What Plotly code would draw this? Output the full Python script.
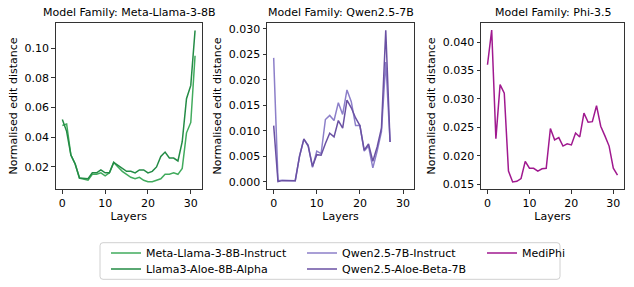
import plotly.graph_objects as go

W, H = 634, 287

layers_llama = list(range(32))
llama_instruct = [0.048, 0.049, 0.028, 0.022, 0.0125, 0.012, 0.011, 0.015, 0.015, 0.016,
                  0.014, 0.016, 0.023, 0.020, 0.017, 0.015, 0.013, 0.012, 0.013, 0.011,
                  0.010, 0.010, 0.011, 0.012, 0.015, 0.015, 0.016, 0.015, 0.019, 0.043,
                  0.050, 0.095]
llama_aloe = [0.052, 0.044, 0.028, 0.022, 0.0125, 0.0125, 0.012, 0.016, 0.016, 0.018,
              0.016, 0.016, 0.023, 0.021, 0.019, 0.017, 0.017, 0.016, 0.018, 0.018,
              0.016, 0.017, 0.020, 0.027, 0.030, 0.026, 0.026, 0.024, 0.037, 0.066,
              0.075, 0.112]

layers_qwen = list(range(28))
qwen_instruct = [0.0243, 0.0002, 0.0003, 0.0003, 0.0003, 0.0002, 0.0050, 0.0083, 0.0072, 0.0028,
                 0.0060, 0.0055, 0.0122, 0.0130, 0.0120, 0.0155, 0.0132, 0.0180, 0.0157, 0.0110,
                 0.0110, 0.0060, 0.0070, 0.0027, 0.0060, 0.0098, 0.0235, 0.0078]
qwen_aloe = [0.0110, 0.0000, 0.0002, 0.0002, 0.0002, 0.0002, 0.0050, 0.0084, 0.0070, 0.0030,
             0.0053, 0.0052, 0.0075, 0.0095, 0.0088, 0.0120, 0.0105, 0.0160, 0.0145, 0.0125,
             0.0110, 0.0062, 0.0074, 0.0040, 0.0068, 0.0105, 0.0297, 0.0078]

layers_phi = list(range(32))
mediphi = [0.0360, 0.0421, 0.0230, 0.0325, 0.0310, 0.0173, 0.0154, 0.0155, 0.0160, 0.0190,
           0.0178, 0.0178, 0.0173, 0.0177, 0.0178, 0.0248, 0.0228, 0.0232, 0.0217, 0.0221,
           0.0219, 0.0240, 0.0233, 0.0275, 0.0259, 0.0260, 0.0288, 0.0252, 0.0235, 0.0217,
           0.0178, 0.0166]

titles = ["Model Family: Meta-Llama-3-8B", "Model Family: Qwen2.5-7B", "Model Family: Phi-3.5"]

FONT = "DejaVu Sans"
FS = 11
C_LI, C_LA = "#41ab5d", "#238b45"
C_QI, C_QA = "#8c7fc9", "#6a51a3"
C_P = "#a0198f"

fig = go.Figure()
def add(x, y, name, color, ax, leg):
    fig.add_trace(go.Scatter(x=x, y=y, name=name, mode="lines", showlegend=True,
                             line=dict(color=color, width=1.5),
                             xaxis="x" + ax, yaxis="y" + ax, legend=leg))

add(layers_llama, llama_instruct, "Meta-Llama-3-8B-Instruct", C_LI, "", "legend")
add(layers_llama, llama_aloe, "Llama3-Aloe-8B-Alpha", C_LA, "", "legend2")
add(layers_qwen, qwen_instruct, "Qwen2.5-7B-Instruct", C_QI, "2", "legend3")
add(layers_qwen, qwen_aloe, "Qwen2.5-Aloe-Beta-7B", C_QA, "2", "legend4")
add(layers_phi, mediphi, "MediPhi", C_P, "3", "legend5")

xdoms = [(55.7 / W, 201.7 / W), (267 / W, 414 / W), (481 / W, 624 / W)]
ydom = (1 - 189.3 / H, 1 - 22.7 / H)
yranges = [(0.0049, 0.1173), (-0.0015, 0.0312), (0.0141, 0.0434)]
ytick = [dict(tickvals=[0.02, 0.04, 0.06, 0.08, 0.10], ticktext=["0.02", "0.04", "0.06", "0.08", "0.10"]),
         dict(tickvals=[0, 0.005, 0.01, 0.015, 0.02, 0.025, 0.03],
              ticktext=["0.000", "0.005", "0.010", "0.015", "0.020", "0.025", "0.030"]),
         dict(tickvals=[0.015, 0.02, 0.025, 0.03, 0.035, 0.04],
              ticktext=["0.015", "0.020", "0.025", "0.030", "0.035", "0.040"])]

tfont = dict(family=FONT, size=FS, color="#000000")
axis_common = dict(showline=True, linecolor="#333333", linewidth=1, mirror=True,
                   ticks="outside", ticklen=3.5, tickwidth=0.8, tickcolor="#333333",
                   showgrid=False, zeroline=False, automargin=False,
                   tickfont=tfont)
lay = {}
for i in range(3):
    sfx = "" if i == 0 else str(i + 1)
    lay["xaxis" + sfx] = dict(domain=xdoms[i], range=[-1.55, 32.55], anchor="y" + sfx,
                              tickvals=[0, 10, 20, 30],
                              title=dict(text="Layers", font=tfont, standoff=0),
                              **axis_common)
    lay["yaxis" + sfx] = dict(domain=ydom, range=list(yranges[i]), anchor="x" + sfx,
                              title=dict(text="Normalised edit distance", font=tfont, standoff=4),
                              **ytick[i], **axis_common)

annotations = []
for i in range(3):
    annotations.append(dict(text=titles[i], x=(xdoms[i][0] + xdoms[i][1]) / 2, y=1 - 13 / H,
                            xref="paper", yref="paper", showarrow=False,
                            font=tfont, xanchor="center", yanchor="middle"))

def leg(xpx, ytop):
    return dict(x=xpx / W, y=1 - ytop / H, xanchor="left", yanchor="top", orientation="v",
                bgcolor="rgba(0,0,0,0)", borderwidth=0, font=tfont, tracegroupgap=0,
                itemwidth=30, visible=True)

# rounded legend frame
x0, x1, y0, y1, r = 100, 560, 242.7, 279.3, 3
def px(x): return x / W
def py(y): return 1 - y / H
path = (f"M {px(x0 + r)},{py(y0)} L {px(x1 - r)},{py(y0)} Q {px(x1)},{py(y0)} {px(x1)},{py(y0 + r)} "
        f"L {px(x1)},{py(y1 - r)} Q {px(x1)},{py(y1)} {px(x1 - r)},{py(y1)} "
        f"L {px(x0 + r)},{py(y1)} Q {px(x0)},{py(y1)} {px(x0)},{py(y1 - r)} "
        f"L {px(x0)},{py(y0 + r)} Q {px(x0)},{py(y0)} {px(x0 + r)},{py(y0)} Z")

fig.update_layout(
    width=W, height=H, margin=dict(l=0, r=0, t=0, b=0, autoexpand=False),
    paper_bgcolor="white", plot_bgcolor="white",
    font=tfont, showlegend=True,
    annotations=annotations,
    legend=leg(106, 238.5), legend2=leg(106, 254.5),
    legend3=leg(302, 238.5), legend4=leg(302, 254.5),
    legend5=leg(482, 238.5),
    shapes=[dict(type="path", xref="paper", yref="paper", path=path,
                 line=dict(color="#d0d0d0", width=1), fillcolor="rgba(0,0,0,0)")],
    **lay,
)

fig.write_html("out.html", config={"displayModeBar": False},
               post_script="document.body.style.margin='0';")
